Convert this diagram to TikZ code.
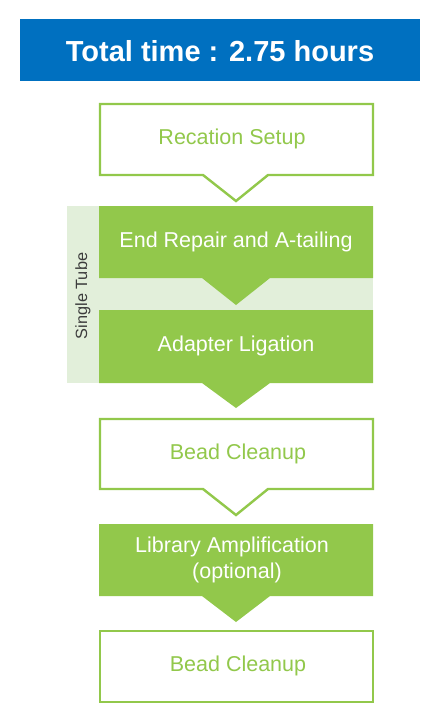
\documentclass[tikz,border=0pt]{standalone}
\usepackage{fontspec}
\setmainfont{Liberation Sans}
\definecolor{gr}{RGB}{146,200,75}
\definecolor{lgr}{RGB}{226,239,218}
\definecolor{bl}{RGB}{0,112,192}
\definecolor{dk}{RGB}{60,60,60}
\begin{document}
\begin{tikzpicture}[x=1pt,y=-1pt,
  txt/.style={font=\fontsize{21.5}{26}\selectfont, align=center},
  wtxt/.style={txt, text=white},
  gtxt/.style={txt, text=gr},
  outl/.style={draw=gr, line width=2.4pt, fill=white, line join=miter}]
\useasboundingbox[fill=white] (0,0) rectangle (440,725);
% title
\fill[bl] (20,19) rectangle (420,81);
\node[text=white, font=\bfseries\fontsize{29}{34}\selectfont] (title) at (220,51) {Total time : 2.75 hours};
% Recation Setup
\draw[outl] (100,104) -- (373,104) -- (373,175) -- (268,175) -- (236,201) -- (203,175) -- (100,175) -- cycle;
\node[gtxt] (s1) at (232,139) {Recation Setup};
% single tube band
\fill[lgr] (67,206) rectangle (373,383);
\node[rotate=90, text=dk, font=\fontsize{16.3}{19}\selectfont] (tube) at (83,296) {Single Tube};
% End repair
\fill[gr] (99,206) -- (373,206) -- (373,278) -- (270,278) -- (236,305) -- (202,278) -- (99,278) -- cycle;
\node[wtxt] (s2) at (236,242) {End Repair and A-tailing};
% Adapter
\fill[gr] (99,310) -- (373,310) -- (373,383) -- (270,383) -- (236,408) -- (202,383) -- (99,383) -- cycle;
\node[wtxt] (s3) at (236,346) {Adapter Ligation};
% Bead cleanup 1
\draw[outl] (100,419) -- (373,419) -- (373,489) -- (268,489) -- (236,515) -- (203,489) -- (100,489) -- cycle;
\node[gtxt] (s4) at (238,454) {Bead Cleanup};
% Library amp
\fill[gr] (99,524) -- (373,524) -- (373,596) -- (270,596) -- (236,622) -- (202,596) -- (99,596) -- cycle;
\node[wtxt, align=center] (s5) at (232,560) {Library Amplification\\\hspace*{10pt}(optional)};
% Bead cleanup 2
\draw[outl] (100,631) rectangle (373,702);
\node[gtxt] (s6) at (238,666) {Bead Cleanup};
\end{tikzpicture}
\end{document}
